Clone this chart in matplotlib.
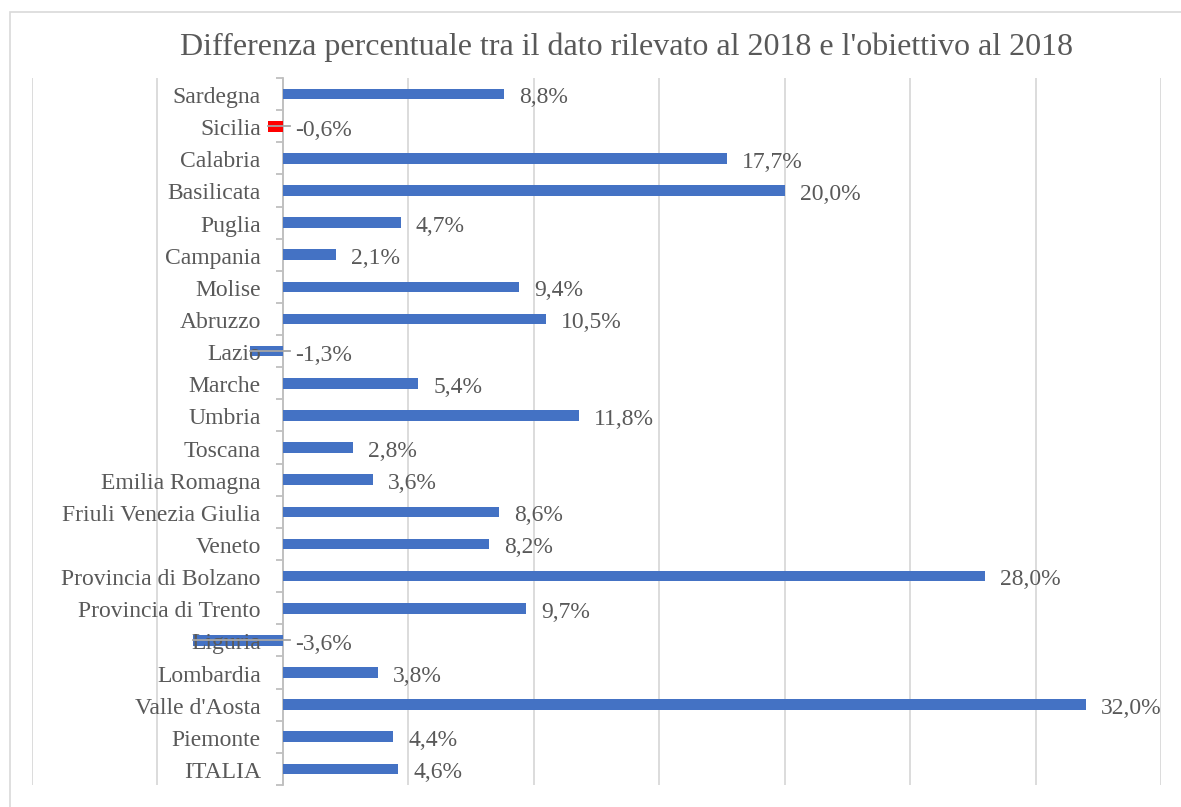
import matplotlib
matplotlib.use("Agg")
import matplotlib.pyplot as plt
import matplotlib.transforms as mtransforms
from matplotlib.patches import Rectangle
from matplotlib.ticker import FixedLocator, MultipleLocator, NullFormatter

# Regions listed bottom to top
regions = ["ITALIA", "Piemonte", "Valle d'Aosta", "Lombardia", "Liguria",
           "Provincia di Trento", "Provincia di Bolzano", "Veneto",
           "Friuli Venezia Giulia", "Emilia Romagna", "Toscana", "Umbria",
           "Marche", "Lazio", "Abruzzo", "Molise", "Campania", "Puglia",
           "Basilicata", "Calabria", "Sicilia", "Sardegna"]
differences = [4.6, 4.4, 32.0, 3.8, -3.6, 9.7, 28.0, 8.2, 8.6, 3.6, 2.8, 11.8,
               5.4, -1.3, 10.5, 9.4, 2.1, 4.7, 20.0, 17.7, -0.6, 8.8]
title = "Differenza percentuale tra il dato rilevato al 2018 e l'obiettivo al 2018"

W, H = 1181, 807
fig = plt.figure(figsize=(W / 100, H / 100), dpi=100)
plt.rcParams["font.family"] = ["Liberation Serif", "DejaVu Serif"]

text_color = "#595959"
bar_color = "#4472C4"
grid_color = "#D9D9D9"
axis_color = "#BFBFBF"

# outer chart frame (only top and left edges fall inside the canvas)
fig.patches.append(Rectangle((10 / W, -0.1), 1.2, 1 - 12 / H + 0.1,
                             transform=fig.transFigure, fill=False,
                             edgecolor=grid_color, linewidth=1.2))

ax = fig.add_axes([32 / W, 1 - 785 / H, (1161 - 32) / W, (785 - 78) / H])
ypos = list(range(len(regions)))
colors = ["#FF0000" if r == "Sicilia" else bar_color for r in regions]
ax.barh(ypos, differences, height=0.33, color=colors, zorder=1)

ax.set_xlim(-10, 35)
ax.set_ylim(-0.5, len(regions) - 0.5)

# vertical gridlines every 5 points, kept behind the bars
ax.xaxis.set_major_locator(MultipleLocator(5))
ax.grid(axis="x", color=grid_color, linewidth=1.3)
ax.tick_params(axis="x", length=0, labelbottom=False)
ax.xaxis.set_zorder(0.5)

for s in ["top", "bottom", "right"]:
    ax.spines[s].set_visible(False)

# category axis placed at zero
ax.spines["left"].set_position(("data", 0))
ax.spines["left"].set_color(axis_color)
ax.spines["left"].set_linewidth(1.3)
ax.spines["left"].set_zorder(0.8)
ax.set_yticks(ypos)
ax.set_yticklabels(regions, fontsize=17, color=text_color)
ax.tick_params(axis="y", which="major", length=0, pad=16)
ax.yaxis.set_minor_locator(FixedLocator([i - 0.5 for i in range(len(regions) + 1)]))
ax.yaxis.set_minor_formatter(NullFormatter())
ax.tick_params(axis="y", which="minor", length=5, width=1.3, color=axis_color)
ax.yaxis.set_zorder(2)
shift = mtransforms.ScaledTranslation(0, -1 / 100, fig.dpi_scale_trans)
for lbl in ax.get_yticklabels():
    lbl.set_transform(lbl.get_transform() + shift)

# value labels; negative bars get a leader line toward the label
for y, v in zip(ypos, differences):
    txt = f"{v:.1f}%".replace(".", ",")
    if v >= 0:
        ax.text(v + 0.6, y - 0.12, txt, ha="left", va="center",
                fontsize=17, color=text_color)
    else:
        ax.plot([v, 0.28], [y, y], color="#A6A6A6", linewidth=1.3, zorder=3)
        ax.text(0.5, y - 0.12, txt, ha="left", va="center",
                fontsize=17, color=text_color)

fig.text(627 / W, 1 - 47 / H, title, ha="center", va="center",
         fontsize=23, color=text_color)

fig.savefig("out.png", dpi=100)
